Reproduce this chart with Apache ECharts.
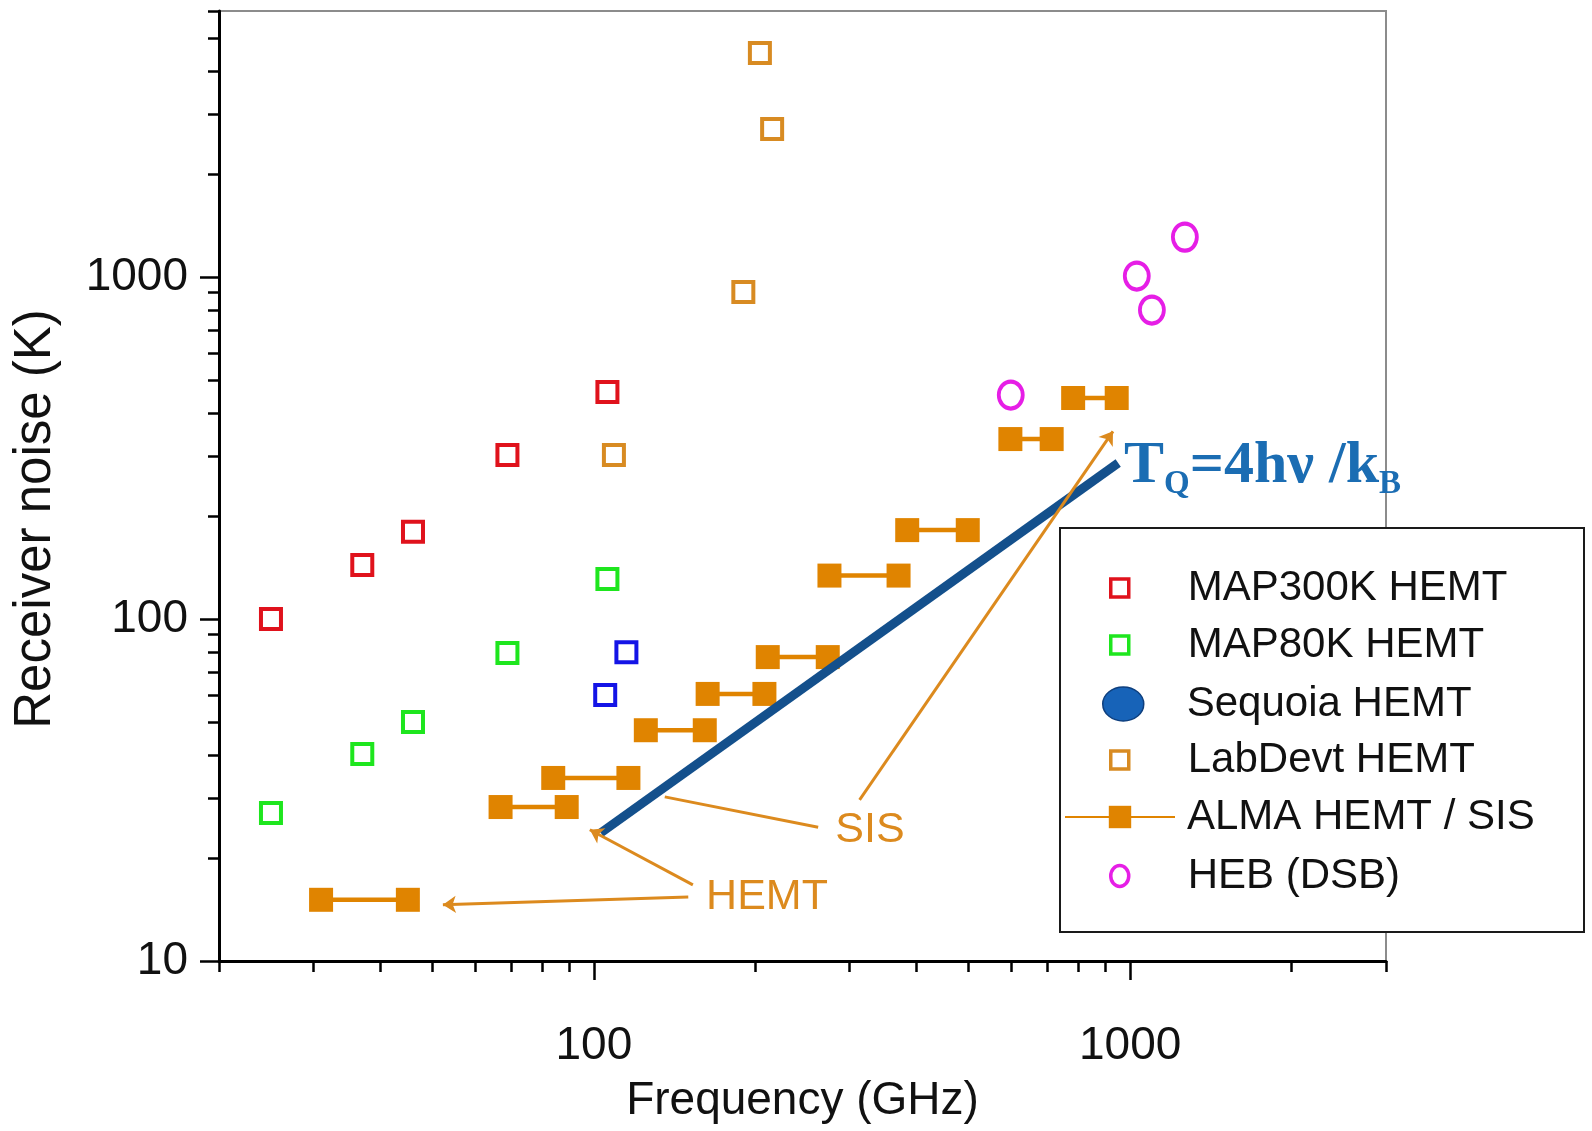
<!DOCTYPE html>
<html>
<head>
<meta charset="utf-8">
<title>Receiver noise vs frequency</title>
<script src="https://cdn.jsdelivr.net/npm/echarts@6.0.0/dist/echarts.min.js"></script>
<style>
  html, body { margin: 0; padding: 0; background: #fff; }
  #chart { width: 1592px; height: 1131px; }
</style>
</head>
<body>
<div id="chart"></div>
<script>
// values: frequency in GHz, noise in K
const map300kFreq = [25, 37, 46, 69, 106];
const map300kNoise = [100, 144, 180, 302, 461];
const map80kFreq = [25, 37, 46, 69, 106];
const map80kNoise = [27.1, 40.3, 50, 79.6, 131];
const sequoiaFreq = [105, 115];
const sequoiaNoise = [60, 80];
const labDevtFreq = [204, 215, 190, 109];
const labDevtNoise = [4520, 2710, 904, 302];
const almaLow = [31, 67, 84, 125, 163, 211, 275, 384, 598, 783];
const almaHigh = [45, 89, 116, 161, 208, 273, 370, 498, 714, 944];
const almaNoise = [15.1, 28.2, 34.3, 47.3, 60.4, 77.4, 134, 182, 336, 443];
const hebFreq = [599, 1029, 1098, 1265];
const hebNoise = [452, 1007, 801, 1309];
const tqFreq = [103, 950];
const tqNoise = [23.7, 286];

// annotation arrows (data coords), start -> end
const arrowStart = [[150, 15.4], [153, 16.7], [262, 24.6], [313, 29.6]];
const arrowEnd = [[52.3, 14.6], [98.3, 24.2], [135.6, 30.2], [929, 354]];
const arrowHead = [true, true, false, true];

// axis ticks
const xMajorTicks = [100, 1000];
const xMinorTicks = [20.001, 30, 40, 50, 60, 70, 80, 90, 200, 300, 400, 500, 600, 700, 800, 900, 2000, 2999.9];
const yMajorTicks = [10.0001, 100, 1000];
const yMinorTicks = [20, 30, 40, 50, 60, 70, 80, 90, 200, 300, 400, 500, 600, 700, 800, 900, 2000, 3000, 4000, 5000, 5999.9];

const sans = '"Liberation Sans", Arial, sans-serif';
const orange = '#e08400';
const noteOrange = '#dc8a1e';
const ellipse = 'path://M0,50A50,50 0 1,1 100,50A50,50 0 1,1 0,50Z';

function pairs(xs, ys) {
  return xs.map((x, i) => [x, ys[i]]);
}

function hollow(name, xs, ys, color, symbol, size) {
  return {
    name: name, type: 'scatter', data: pairs(xs, ys),
    symbol: symbol, symbolSize: size, symbolKeepAspect: false, z: 3,
    itemStyle: { color: 'rgba(255,255,255,0)', borderColor: color, borderWidth: 4, opacity: 1 },
    emphasis: { disabled: true }
  };
}

const almaSeries = almaLow.map((lo, i) => ({
  name: 'ALMA HEMT / SIS', type: 'line',
  data: [[lo, almaNoise[i]], [almaHigh[i], almaNoise[i]]],
  symbol: 'rect', symbolSize: 24, showAllSymbol: true, z: 2,
  itemStyle: { color: orange, opacity: 1 },
  lineStyle: { color: orange, width: 4.5 },
  emphasis: { disabled: true }
}));

const arrows = arrowStart.map((s, i) => [
  { coord: s, symbol: 'none' },
  { coord: arrowEnd[i], symbol: arrowHead[i] ? 'arrow' : 'none', symbolSize: 13 }
]);

function legendFor(name, top, left, w, h, icon, style, padLeft) {
  const item = { name: name };
  if (icon) item.icon = icon;
  if (style) item.itemStyle = style;
  return {
    data: [item], top: top, left: left, itemWidth: w, itemHeight: h,
    padding: 0, z: 5, selectedMode: false, symbolKeepAspect: false,
    textStyle: { fontSize: 42, fontFamily: sans, color: '#111', lineHeight: 48, padding: [0, 0, 0, padLeft] }
  };
}

const boxStyle = c => ({ color: 'rgba(255,255,255,0)', borderColor: c, borderWidth: 3.5, opacity: 1 });

const chart = echarts.init(document.getElementById('chart'));
chart.setOption({
  animation: false,
  backgroundColor: '#fff',
  grid: {
    left: 219, right: 206, top: 11, bottom: 170,
    show: true, borderColor: '#8c8c8c', borderWidth: 2,
    outerBoundsMode: 'none'
  },
  xAxis: [{
    type: 'log', logBase: 10, min: 20, max: 3000, position: 'bottom', z: 1,
    name: 'Frequency (GHz)', nameLocation: 'middle', nameGap: 117,
    nameTextStyle: { fontSize: 46, fontFamily: sans, color: '#111' },
    axisLine: { show: true, lineStyle: { color: '#000', width: 3 } },
    axisTick: { show: true, length: 19, customValues: xMajorTicks, lineStyle: { color: '#000', width: 2.5 } },
    axisLabel: { customValues: xMajorTicks, fontSize: 46, fontFamily: sans, color: '#111', margin: 62,
      formatter: v => String(Math.round(v)) },
    splitLine: { show: false }, minorTick: { show: false }
  }, {
    type: 'log', logBase: 10, min: 20, max: 3000, position: 'bottom', z: 1,
    axisLine: { show: false },
    axisTick: { show: true, length: 11, customValues: xMinorTicks, lineStyle: { color: '#000', width: 2.5 } },
    axisLabel: { show: false }, splitLine: { show: false }
  }],
  yAxis: [{
    type: 'log', logBase: 10, min: 10, max: 6000, position: 'left', z: 1,
    name: 'Receiver noise (K)', nameLocation: 'middle', nameGap: 158,
    nameTextStyle: { fontSize: 51, fontFamily: sans, color: '#111', padding: [0, 66, 0, 0] },
    axisLine: { show: true, lineStyle: { color: '#000', width: 3 } },
    axisTick: { show: true, length: 19, customValues: yMajorTicks, lineStyle: { color: '#000', width: 2.5 } },
    axisLabel: { customValues: yMajorTicks, fontSize: 46, fontFamily: sans, color: '#111', margin: 31,
      formatter: v => String(Math.round(v)) },
    splitLine: { show: false }, minorTick: { show: false }
  }, {
    type: 'log', logBase: 10, min: 10, max: 6000, position: 'left', z: 1,
    axisLine: { show: false },
    axisTick: { show: true, length: 11, customValues: yMinorTicks, lineStyle: { color: '#000', width: 2.5 } },
    axisLabel: { show: false }, splitLine: { show: false }
  }],
  legend: [
    legendFor('MAP300K HEMT', 564, 1109, 18, 18, 'rect', boxStyle('#e0121c'), 54),
    legendFor('MAP80K HEMT', 621, 1109, 18, 18, 'rect', boxStyle('#1ee61e'), 54),
    legendFor('Sequoia HEMT', 680, 1102, 41, 34, ellipse,
      { color: '#1763b8', borderColor: '#0e3f7e', borderWidth: 1.5, opacity: 1 }, 38),
    legendFor('LabDevt HEMT', 736, 1109, 18, 18, 'rect', boxStyle('#d88b22'), 54),
    legendFor('ALMA HEMT / SIS', 793, 1064, 110, 28, null, null, 7),
    legendFor('HEB (DSB)', 852, 1109, 18, 21, ellipse, boxStyle('#e61ee6'), 54)
  ],
  series: [
    hollow('MAP300K HEMT', map300kFreq, map300kNoise, '#e0121c', 'rect', 20),
    hollow('MAP80K HEMT', map80kFreq, map80kNoise, '#1ee61e', 'rect', 20),
    hollow('Sequoia HEMT', sequoiaFreq, sequoiaNoise, '#1414e6', 'rect', 20),
    hollow('LabDevt HEMT', labDevtFreq, labDevtNoise, '#d88b22', 'rect', 20)
  ].concat(almaSeries).concat([
    hollow('HEB (DSB)', hebFreq, hebNoise, '#e61ee6', ellipse, [24, 27]),
    {
      name: 'quantum limit', type: 'line', data: pairs(tqFreq, tqNoise),
      symbol: 'none', z: 4, lineStyle: { color: '#14508c', width: 9 },
      emphasis: { disabled: true },
      markLine: {
        silent: true, animation: false, symbol: ['none', 'arrow'], symbolSize: 13,
        label: { show: false },
        lineStyle: { color: noteOrange, width: 3, type: 'solid' },
        emphasis: { disabled: true },
        data: arrows
      }
    }
  ]),
  graphic: [
    { type: 'rect', z: 3, shape: { x: 1060, y: 528, width: 524, height: 404 },
      style: { fill: '#fff', stroke: '#1a1a1a', lineWidth: 2 } },
    { type: 'text', z: 10, x: 870, y: 830,
      style: { text: 'SIS', fontSize: 43, fontFamily: sans, fill: noteOrange, align: 'center', verticalAlign: 'middle' } },
    { type: 'text', z: 10, x: 767, y: 897,
      style: { text: 'HEMT', fontSize: 43, fontFamily: sans, fill: noteOrange, align: 'center', verticalAlign: 'middle' } },
    { type: 'text', z: 10, x: 1124, y: 431,
      style: {
        text: '{a|T}{b|Q}{a|=4hν /k}{b|B}', align: 'left', verticalAlign: 'top', fill: '#1b6db3',
        rich: {
          a: { fontSize: 60, fontWeight: 'bold', fontFamily: '"Liberation Serif", serif', fill: '#1b6db3', lineHeight: 70 },
          b: { fontSize: 33, fontWeight: 'bold', fontFamily: '"Liberation Serif", serif', fill: '#1b6db3', lineHeight: 40, verticalAlign: 'bottom' }
        }
      } }
  ]
});
</script>
</body>
</html>
